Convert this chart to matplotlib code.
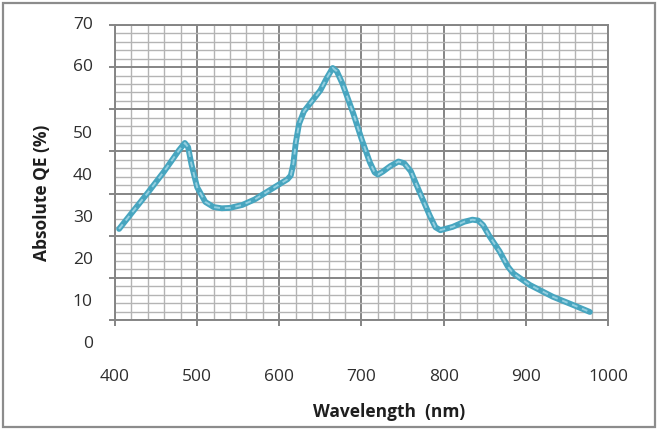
import matplotlib.pyplot as plt
from matplotlib.patches import Rectangle
from matplotlib.ticker import MultipleLocator

plt.rcParams['font.family'] = ['Open Sans', 'DejaVu Sans']

# Curva de QE absoluta
wavelength = [405, 420, 440, 460, 478, 485, 489, 493, 500, 510, 520, 530, 540,
              555, 570, 590, 600, 610, 614, 617, 620, 624, 630, 640, 650, 658,
              665, 670, 677, 690, 700, 710, 716, 720, 726, 735, 745, 752, 760,
              771, 783, 790, 796, 811, 825, 835, 842, 848, 856, 868, 878, 885,
              905, 933, 957, 978]
qe = [21.6, 25.3, 30.2, 35.3, 40.3, 42.0, 41.0, 37.0, 31.5, 28.0, 26.8, 26.5, 26.6,
      27.3, 28.6, 31.0, 32.2, 33.4, 34.3, 37.0, 42.0, 46.5, 49.5, 52.0, 54.5, 57.5,
      59.8, 59.0, 56.0, 49.0, 43.0, 37.5, 35.0, 34.5, 35.2, 36.5, 37.6, 37.2, 35.3,
      30.2, 24.8, 22.0, 21.3, 22.1, 23.3, 23.8, 23.6, 22.5, 19.8, 16.3, 12.7, 11.0,
      8.3, 5.5, 3.6, 1.9]

x_ticks = [400, 500, 600, 700, 800, 900, 1000]
y_labels = [0, 10, 20, 30, 40, 50, 60, 70]

fig = plt.figure(figsize=(6.6, 4.32), dpi=100)
ax = fig.add_axes([0.1742, 0.2593, 0.747, 0.6829])

ax.set_xlim(400, 1000)
ax.set_ylim(0, 70)
ax.xaxis.set_major_locator(MultipleLocator(100))
ax.xaxis.set_minor_locator(MultipleLocator(20))
ax.yaxis.set_major_locator(MultipleLocator(10))
ax.yaxis.set_minor_locator(MultipleLocator(2))

ax.grid(which='minor', color='#b4b4b4', linewidth=1.0)
ax.grid(which='major', color='#858585', linewidth=1.4)
ax.set_axisbelow(True)
for s in ax.spines.values():
    s.set_color('#858585')
    s.set_linewidth(1.4)

ax.tick_params(which='major', direction='out', length=4.5, width=1.4, color='#858585')
ax.tick_params(which='minor', length=0)
ax.set_xticks(x_ticks)
ax.set_xticklabels([str(v) for v in x_ticks])
ax.tick_params(axis='x', pad=31, labelsize=12.5, labelcolor='#2e2e2e')
ax.set_yticklabels([])

# etiquetas del eje y (en el original las de 0-50 estan desplazadas)
for v in y_labels:
    ypos = v if v >= 60 else v - 5.8
    ax.text(-0.045, ypos, str(v), transform=ax.get_yaxis_transform(),
            ha='right', va='center', fontsize=12.5, color='#2e2e2e', clip_on=False)

ax.plot(wavelength, qe, color='#47a5bf', linewidth=4.2, solid_capstyle='round',
        solid_joinstyle='round')
ax.plot(wavelength, qe, color='#93cfe0', linewidth=1.4, dashes=(3, 2.5))

fig.text(42 / 660, 1 - 193 / 432, 'Absolute QE (%)', rotation=90, ha='center',
         va='center', fontsize=12.5, fontweight='bold', color='#1e1e1e')
fig.text(389 / 660, 1 - 412 / 432, 'Wavelength  (nm)', ha='center', va='center',
         fontsize=12.5, fontweight='bold', color='#1e1e1e')

fig.patches.append(Rectangle((3 / 660, 5 / 432), 652 / 660, 424 / 432,
                             transform=fig.transFigure, fill=False,
                             edgecolor='#8c8c8c', linewidth=1.6))

fig.savefig('out.png', dpi=100)
